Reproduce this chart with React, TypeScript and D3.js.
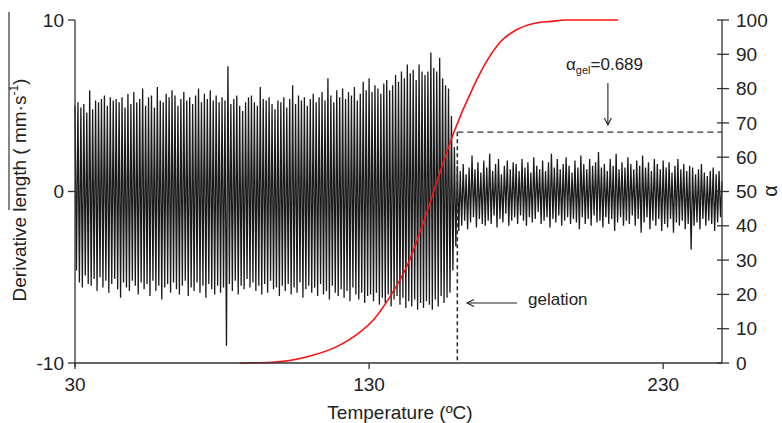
import React from "react";
import * as d3 from "d3";

// ---- data ----
const xTicks = [30, 130, 230];
const leftTicks = [-10, 0, 10];
const rightTicks = [0, 10, 20, 30, 40, 50, 60, 70, 80, 90, 100];

const signalStartT = 30;
const signalStepT = 0.5;
// derivative length (mm/s), sampled every 0.5 °C, before gelation (30–159.5 °C)
const signalPreGel = [
  5.0, -4.6, 5.2, -5.3, 4.9, -5.6, 5.1, -4.9, 4.6, -5.4, 5.9, -5.5, 4.8, -5.1, 5.3, -5.8, 5.2, -5.0, 5.4, -5.6,
  5.6, -5.2, 5.0, -5.9, 5.5, -5.4, 5.3, -5.1, 5.4, -5.7, 5.2, -6.2, 5.5, -5.3, 4.9, -5.6, 5.7, -5.8, 5.1, -5.2,
  5.8, -5.5, 5.2, -6.0, 5.4, -5.3, 6.0, -5.7, 5.0, -5.4, 5.5, -6.1, 5.6, -5.2, 4.9, -5.8, 6.1, -5.5, 5.3, -6.3,
  5.2, -5.6, 5.7, -5.4, 5.5, -5.9, 5.9, -5.3, 5.6, -5.7, 5.0, -6.0, 5.4, -5.5, 5.8, -5.2, 5.3, -6.1, 5.5, -5.6,
  5.1, -5.8, 5.6, -5.3, 6.0, -5.9, 5.2, -5.5, 5.7, -6.2, 5.4, -5.4, 5.9, -5.7, 5.3, -6.0, 5.6, -5.5, 5.2, -5.9,
  5.5, -5.6, 5.3, -9.0, 7.3, -5.4, 5.1, -5.8, 5.4, -5.2, 5.6, -6.0, 5.0, -5.5, 4.7, -5.7, 5.2, -5.1, 5.5, -5.6,
  5.6, -5.3, 5.2, -5.8, 5.0, -5.5, 6.1, -6.0, 5.4, -5.4, 5.3, -5.9, 5.5, -5.2, 5.1, -5.7, 4.8, -5.6, 5.3, -6.1,
  5.2, -5.5, 5.5, -5.8, 4.9, -5.4, 5.4, -6.0, 6.2, -5.6, 5.1, -5.9, 5.6, -5.3, 5.3, -6.2, 5.5, -5.7, 5.0, -5.5,
  5.4, -5.9, 5.7, -5.6, 5.2, -6.1, 5.5, -5.4, 5.8, -6.0, 5.3, -5.8, 6.6, -6.3, 5.6, -5.5, 5.2, -5.9, 5.9, -6.1,
  5.5, -5.7, 6.0, -6.2, 5.4, -5.8, 5.8, -6.4, 5.6, -5.6, 6.1, -6.0, 5.3, -6.3, 5.7, -5.9, 6.4, -6.5, 5.9, -6.1,
  6.6, -6.0, 5.8, -6.4, 6.2, -5.9, 6.0, -6.6, 5.7, -6.2, 6.3, -6.5, 6.5, -6.0, 5.9, -6.7, 6.2, -6.3, 6.8, -6.1,
  6.4, -6.6, 7.0, -6.2, 6.6, -6.8, 7.4, -6.4, 6.9, -6.7, 7.1, -6.3, 6.5, -6.9, 7.4, -6.5, 7.0, -6.8, 6.8, -6.4,
  7.0, -6.6, 8.1, -6.9, 7.2, -6.3, 7.0, -6.7, 7.8, -6.1, 6.6, -6.5, 6.2, -6.2, 6.0, -5.9, 4.4, -4.6, 2.6, -3.2,
];
// after gelation (160–250 °C)
const signalPostGel = [
  1.5, -2.3, 1.2, -2.0, 1.6, -1.7, 1.0, -2.2, 1.4, -1.8, 2.1, -1.5, 1.3, -2.1, 1.7, -1.6, 1.1, -1.9, 1.8, -2.0,
  1.4, -1.7, 2.2, -1.9, 1.2, -1.4, 1.6, -2.1, 1.9, -1.6, 1.0, -1.8, 1.5, -1.3, 1.8, -2.0, 1.3, -1.7, 1.7, -1.5,
  1.6, -1.9, 1.2, -1.4, 1.9, -1.7, 1.4, -2.0, 1.7, -1.5, 1.1, -1.8, 2.0, -1.6, 1.5, -1.2, 1.3, -1.9, 1.8, -1.7,
  1.2, -1.5, 1.7, -2.1, 2.2, -1.6, 1.4, -1.8, 1.9, -1.4, 1.3, -2.0, 1.6, -1.7, 2.0, -1.5, 1.5, -1.9, 1.1, -1.6,
  1.8, -1.8, 1.4, -2.2, 2.1, -1.5, 1.6, -1.9, 1.3, -1.6, 1.9, -2.0, 1.5, -1.4, 1.7, -1.8, 2.3, -1.7, 1.4, -2.1,
  1.6, -1.5, 1.2, -1.9, 1.9, -1.6, 1.5, -2.3, 2.2, -1.8, 1.3, -1.5, 1.7, -2.0, 1.4, -1.7, 2.0, -1.9, 1.6, -1.4,
  1.3, -2.0, 1.8, -1.6, 1.5, -2.4, 2.1, -1.8, 1.4, -1.5, 1.7, -2.2, 1.2, -1.7, 1.9, -2.0, 1.6, -1.6, 1.3, -2.3,
  1.8, -1.9, 1.4, -2.1, 1.7, -1.6, 1.1, -2.4, 1.5, -1.8, 1.9, -2.0, 1.3, -1.7, 1.6, -2.2, 1.2, -1.9, 1.5, -3.4,
  1.4, -2.0, 1.0, -1.8, 1.3, -2.2, 1.6, -1.6, 1.1, -2.0, 0.9, -1.7, 1.2, -1.9, 1.4, -2.3, 1.0, -1.8, 1.2, -1.5,
  0.6,
];

// degree of conversion α (%) vs temperature
const alphaT = [86, 97, 109, 120, 126, 131.5, 137, 143, 148.5, 154, 158.7, 165.5, 170, 174.6, 180, 186, 192, 197, 205, 214.7];
const alphaV = [0, 0.2, 1.8, 5.2, 8.4, 12.6, 19.2, 28.5, 41, 55.3, 67, 80.6, 88, 93.6, 97.1, 99, 99.6, 100, 100, 100];

const gelT = 160;
const gelAlphaLine = 67.3;
const gelLabel = "0.689";

// ---- layout ----
const W = 782;
const H = 423;
const FONT = "'Liberation Sans', Arial, Helvetica, sans-serif";
const INK = "#222";

export default function App() {
  const x = d3.scaleLinear().domain([30, 250]).range([75, 722]);
  const yL = d3.scaleLinear().domain([-10, 10]).range([363, 20]);
  const yR = d3.scaleLinear().domain([0, 100]).range([363, 20]);

  const signal = signalPreGel.concat(signalPostGel);
  const sigLine = d3
    .line<number>()
    .x((_, i) => x(signalStartT + i * signalStepT))
    .y((d) => yL(d));

  const alphaData = alphaT.map((t, i) => [t, alphaV[i]] as [number, number]);
  const alphaLine = d3
    .line<[number, number]>()
    .x((d) => x(d[0]))
    .y((d) => yR(d[1]))
    .curve(d3.curveMonotoneX);

  const x0 = x.range()[0];
  const x1 = x.range()[1];
  const yBottom = yL.range()[0];
  const yTop = yL.range()[1];

  const gx = x(gelT);
  const gy = yR(gelAlphaLine);

  // annotation arrows
  const arrA = { x: x(211.2), y1: 83, y2: 125 };
  const arrG = { y: 303, x1: 517, x2: 467 };

  return (
    <svg
      width={W}
      height={H}
      viewBox={`0 0 ${W} ${H}`}
      style={{ position: "absolute", left: 0, top: 0, background: "#fff" }}
      fontFamily={FONT}
    >
      <rect x={0} y={0} width={W} height={H} fill="#fff" />

      {/* signal */}
      <path d={sigLine(signal) || ""} fill="none" stroke="#1a1a1a" strokeWidth={1.3} strokeLinejoin="miter" />

      {/* gel dashed lines */}
      <line x1={gx} y1={gy} x2={x1} y2={gy} stroke="#333" strokeWidth={1.4} strokeDasharray="6,4" />
      <line x1={gx} y1={gy} x2={gx} y2={yBottom} stroke="#333" strokeWidth={1.6} strokeDasharray="4,3" />

      {/* alpha curve */}
      <path d={alphaLine(alphaData) || ""} fill="none" stroke="#ff1010" strokeWidth={1.6} />

      {/* axes */}
      <g stroke="#333" strokeWidth={1.3} fill="none">
        <line x1={x0} y1={yTop} x2={x0} y2={yBottom + 4} />
        <line x1={x0 - 1} y1={yBottom} x2={x1} y2={yBottom} />
        <line x1={x1} y1={yTop} x2={x1} y2={yBottom} />
        {leftTicks.map((t) => (
          <line key={"lt" + t} x1={x0 - 7} x2={x0} y1={yL(t)} y2={yL(t)} />
        ))}
        {xTicks.map((t) => (
          <line key={"xt" + t} x1={x(t)} x2={x(t)} y1={yBottom} y2={yBottom + 6} />
        ))}
        {rightTicks.map((t) => (
          <line key={"rt" + t} x1={x1 - 5} x2={x1 + 7} y1={yR(t)} y2={yR(t)} />
        ))}
      </g>

      {/* tick labels */}
      <g fill={INK} fontSize={19}>
        {leftTicks.map((t) => (
          <text key={"ll" + t} x={x0 - 11} y={yL(t)} dy="0.35em" textAnchor="end">
            {t}
          </text>
        ))}
        {xTicks.map((t) => (
          <text key={"xl" + t} x={x(t)} y={391} textAnchor="middle">
            {t}
          </text>
        ))}
        {rightTicks.map((t) => (
          <text key={"rl" + t} x={x1 + 14} y={yR(t)} dy="0.35em" textAnchor="start">
            {t}
          </text>
        ))}
      </g>

      {/* axis titles */}
      <text x={400} y={419} textAnchor="middle" fontSize={19} fill={INK}>
        Temperature (ºC)
      </text>
      <g transform="translate(26,190) rotate(-90)">
        <text x={0} y={0} textAnchor="middle" fontSize={19} fill={INK}>
          Derivative length ( mm·s
          <tspan fontSize={12} dy={-8}>-1</tspan>
          <tspan dy={8}>)</tspan>
        </text>
      </g>
      <line x1={9} y1={12} x2={9} y2={210} stroke="#333" strokeWidth={1.2} />
      <g transform="translate(777,191) rotate(-90)">
        <text x={0} y={0} textAnchor="middle" fontSize={20} fill={INK}>
          α
        </text>
      </g>

      {/* annotations */}
      <text x={566} y={70} fontSize={17} fill={INK}>
        α<tspan fontSize={11} dy={4}>gel</tspan>
        <tspan dy={-4}>={gelLabel}</tspan>
      </text>
      <g stroke="#222" strokeWidth={1.1} fill="none">
        <line x1={arrA.x} y1={arrA.y1} x2={arrA.x} y2={arrA.y2} />
        <polyline points={`${arrA.x - 3.5},${arrA.y2 - 7} ${arrA.x},${arrA.y2} ${arrA.x + 3.5},${arrA.y2 - 7}`} />
        <line x1={arrG.x1} y1={arrG.y} x2={arrG.x2} y2={arrG.y} />
        <polyline points={`${arrG.x2 + 7},${arrG.y - 3.5} ${arrG.x2},${arrG.y} ${arrG.x2 + 7},${arrG.y + 3.5}`} />
      </g>
      <text x={528} y={305} fontSize={17} fill={INK}>
        gelation
      </text>
    </svg>
  );
}
